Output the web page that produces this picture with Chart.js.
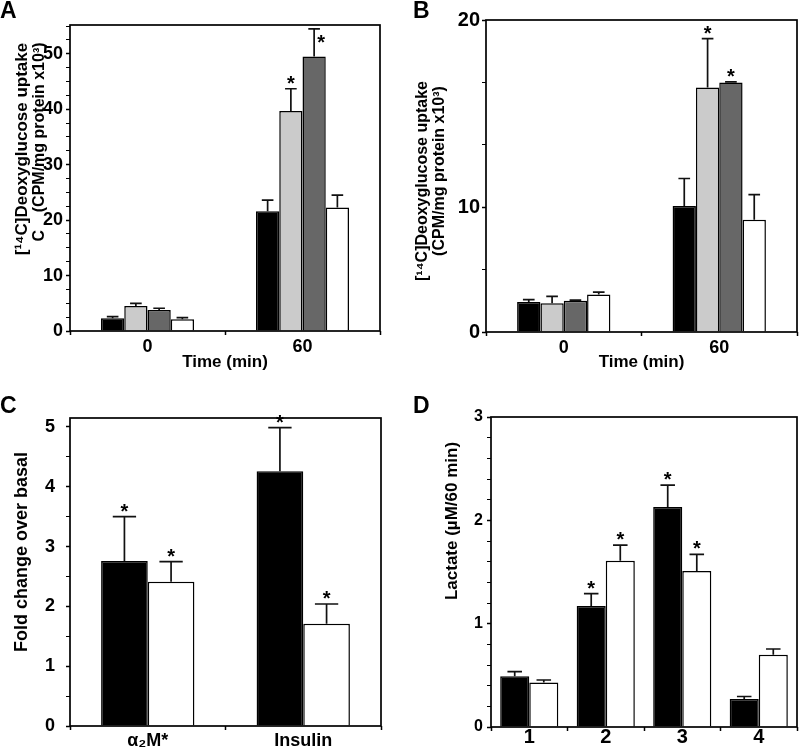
<!DOCTYPE html>
<html><head><meta charset="utf-8">
<script src="https://cdn.jsdelivr.net/npm/chart.js@4/dist/chart.umd.min.js"></script>
<style>
html,body{margin:0;padding:0;background:#fff;}
#wrap{position:relative;width:800px;height:753px;overflow:hidden;}
canvas{position:absolute;}
</style></head><body>
<div id="wrap">
<canvas id="cA" width="400" height="376" style="left:0;top:0"></canvas>
<canvas id="cB" width="400" height="376" style="left:400px;top:0"></canvas>
<canvas id="cC" width="400" height="377" style="left:0;top:376px"></canvas>
<canvas id="cD" width="400" height="377" style="left:400px;top:376px"></canvas>
</div>
<script>
// ---------- DATA ----------
// Panel A
const aCategories = ['0', '60'];
const aBlack = [2.3, 21.6];   const aBlackErr = [0.3, 2.0];
const aLight = [4.5, 39.7];   const aLightErr = [0.5, 4.0];
const aDark  = [3.8, 49.5];   const aDarkErr  = [0.3, 5.0];
const aWhite = [2.1, 22.3];   const aWhiteErr = [0.3, 2.2];
const aLightStar = [false, true];
const aDarkStar  = [false, true];
// Panel B
const bCategories = ['0', '60'];
const bBlack = [2.4, 10.1];   const bBlackErr = [0.2, 2.2];
const bLight = [2.3, 19.6];   const bLightErr = [0.55, 3.9];
const bDark  = [2.5, 20.0];   const bDarkErr  = [0.05, 0.05];
const bWhite = [3.0, 9.0];    const bWhiteErr = [0.2, 2.0];
const bLightStar = [false, true];
const bDarkStar  = [false, true];
const bTickValues = [0, 10, 25];
const bTickTexts  = ['0', '10', '20'];
// Panel C
const cCategories = ['α₂M*', 'Insulin'];
const cBlack = [2.76, 4.26];  const cBlackErr = [0.74, 0.73];
const cWhite = [2.41, 1.71];  const cWhiteErr = [0.34, 0.33];
const cBlackStar = [true, true];
const cWhiteStar = [true, true];
// Panel D
const dCategories = ['1', '2', '3', '4'];
const dBlack = [0.49, 1.17, 2.13, 0.27];  const dBlackErr = [0.045, 0.12, 0.21, 0.025];
const dWhite = [0.43, 1.61, 1.51, 0.70];  const dWhiteErr = [0.025, 0.15, 0.16, 0.055];
const dBlackStar = [false, true, true, false];
const dWhiteStar = [false, true, true, false];

// ---------- STYLE ----------
const FAM = "'Liberation Sans', Arial, Helvetica, sans-serif";
const BLACK = '#000000', LIGHT = '#cbcbcb', DARK = '#676767', WHITE = '#ffffff';

const decor = {
  id: 'decor',
  afterDatasetsDraw(chart, args, o) {
    const ctx = chart.ctx, ca = chart.chartArea, ys = chart.scales.y;
    ctx.save();
    // error bars + stars
    chart.data.datasets.forEach((ds, i) => {
      const meta = chart.getDatasetMeta(i);
      meta.data.forEach((el, j) => {
        const v = ds.data[j];
        const e = ds.err ? ds.err[j] : 0;
        const yTop = el.y;
        const yE = ys.getPixelForValue(v + e);
        const w = el.width * 0.5;
        ctx.strokeStyle = '#111';
        ctx.lineWidth = 1.7;
        ctx.beginPath();
        ctx.moveTo(el.x, yTop); ctx.lineTo(el.x, yE);
        ctx.moveTo(el.x - w / 2, yE); ctx.lineTo(el.x + w / 2, yE);
        ctx.stroke();
        if (ds.stars && ds.stars[j]) {
          ctx.fillStyle = '#000';
          ctx.font = 'bold 20px ' + FAM;
          ctx.textAlign = 'center';
          ctx.textBaseline = 'alphabetic';
          if (yE - 8 < ca.top) ctx.fillText('*', el.x + 7, yE + 20);
          else ctx.fillText('*', el.x, yE + 1);
        }
      });
    });
    // frame
    ctx.strokeStyle = '#000';
    ctx.lineWidth = 1.7;
    ctx.strokeRect(ca.left, ca.top, ca.right - ca.left, ca.bottom - ca.top);
    // panel letter
    ctx.fillStyle = '#000';
    ctx.font = 'bold 23px ' + FAM;
    ctx.textAlign = 'left';
    ctx.textBaseline = 'alphabetic';
    ctx.fillText(o.letter, o.letterX, o.letterY);
    // y title
    o.yTitle.forEach(t => {
      ctx.save();
      ctx.translate(t.x, t.y);
      ctx.rotate(-Math.PI / 2);
      ctx.font = 'bold ' + t.size + 'px ' + FAM;
      ctx.textAlign = 'center';
      ctx.textBaseline = 'middle';
      ctx.fillText(t.text, 0, 0);
      ctx.restore();
    });
    ctx.restore();
  }
};

function makeChart(id, cfg) {
  const datasets = cfg.series.map(s => ({
    data: s.data, err: s.err, stars: s.stars,
    backgroundColor: s.color, borderColor: '#000', borderWidth: 1.5,
    borderSkipped: 'start',
    barPercentage: 1.0, categoryPercentage: cfg.catPct
  }));
  return new Chart(document.getElementById(id), {
    type: 'bar',
    data: { labels: cfg.labels, datasets },
    plugins: [decor],
    options: {
      responsive: false, animation: false, devicePixelRatio: 1,
      layout: { padding: { top: cfg.top, right: cfg.right, left: 0, bottom: 0 } },
      plugins: { legend: { display: false }, tooltip: { enabled: false }, decor: cfg.decor },
      scales: {
        x: {
          type: 'category', offset: true,
          grid: { display: true, offset: true, drawOnChartArea: false, drawTicks: true, tickLength: 4, tickColor: '#000', tickWidth: 1.5 },
          border: { display: false },
          ticks: { color: '#000', font: { family: FAM, size: cfg.xTickSize, weight: 'bold' }, padding: cfg.xTickPad, maxRotation: 0, autoSkip: false },
          title: cfg.xTitle ? { display: true, text: cfg.xTitle, color: '#000', font: { family: FAM, size: 17, weight: 'bold', lineHeight: 1.2 }, padding: { top: 0, bottom: cfg.xTitlePad } } : { display: false },
          afterFit(s) { s.height = cfg.xHeight; }
        },
        y: {
          min: 0, max: cfg.yMax,
          grid: { display: true, drawOnChartArea: false, drawTicks: true, tickLength: 4, tickColor: '#000',
                  tickWidth: c => (cfg.isMajor(c.tick.value) ? 1.5 : 1) },
          border: { display: false },
          ticks: { stepSize: cfg.yStep, autoSkip: false, includeBounds: false, color: '#000',
                   font: { family: FAM, size: cfg.yTickSize, weight: 'bold' }, padding: cfg.yTickPad,
                   callback: v => cfg.yLabel(v) },
          afterFit(s) { s.width = cfg.yWidth; }
        }
      }
    }
  });
}

const near = (v, t) => Math.abs(v - t) < 1e-6;

// Panel A
makeChart('cA', {
  labels: aCategories, catPct: 0.6,
  series: [
    { data: aBlack, err: aBlackErr, color: BLACK },
    { data: aLight, err: aLightErr, color: LIGHT, stars: aLightStar },
    { data: aDark,  err: aDarkErr,  color: DARK,  stars: aDarkStar },
    { data: aWhite, err: aWhiteErr, color: WHITE }
  ],
  top: 25, right: 20, yWidth: 70, xHeight: 45,
  yMax: 55.2, yStep: 2.5, yTickSize: 18, yTickPad: 3,
  isMajor: v => near(v % 10, 0),
  yLabel: v => (near(v % 10, 0) ? String(v) : ''),
  xTickSize: 18, xTickPad: 1, xTitle: 'Time (min)', xTitlePad: 3,
  decor: { letter: 'A', letterX: 0, letterY: 18,
    yTitle: [ { text: '[¹⁴C]Deoxyglucose uptake', x: 22, y: 149, size: 17 },
              { text: 'C    (CPM/mg protein x10³)', x: 40, y: 142, size: 16 } ] }
});

// Panel B
makeChart('cB', {
  labels: bCategories, catPct: 0.6,
  series: [
    { data: bBlack, err: bBlackErr, color: BLACK },
    { data: bLight, err: bLightErr, color: LIGHT, stars: bLightStar },
    { data: bDark,  err: bDarkErr,  color: DARK,  stars: bDarkStar },
    { data: bWhite, err: bWhiteErr, color: WHITE }
  ],
  top: 20, right: 3, yWidth: 86, xHeight: 44,
  yMax: 25, yStep: 5, yTickSize: 20, yTickPad: 2,
  isMajor: v => bTickValues.some(t => near(t, v)),
  yLabel: v => { const k = bTickValues.findIndex(t => near(t, v)); return k >= 0 ? bTickTexts[k] : ''; },
  xTickSize: 18, xTickPad: 1, xTitle: 'Time (min)', xTitlePad: 3,
  decor: { letter: 'B', letterX: 13, letterY: 18,
    yTitle: [ { text: '[¹⁴C]Deoxyglucose uptake', x: 23, y: 181, size: 16 },
              { text: '(CPM/mg protein x10³)', x: 40, y: 171, size: 16 } ] }
});

// Panel C
makeChart('cC', {
  labels: cCategories, catPct: 0.6,
  series: [
    { data: cBlack, err: cBlackErr, color: BLACK, stars: cBlackStar },
    { data: cWhite, err: cWhiteErr, color: WHITE, stars: cWhiteStar }
  ],
  top: 42, right: 19, yWidth: 70, xHeight: 27,
  yMax: 5.15, yStep: 0.5, yTickSize: 18, yTickPad: 11,
  isMajor: v => near(v, Math.round(v)),
  yLabel: v => (near(v, Math.round(v)) ? String(Math.round(v)) : ''),
  xTickSize: 18, xTickPad: 0, xTitle: null, xTitlePad: 0,
  decor: { letter: 'C', letterX: 0, letterY: 37,
    yTitle: [ { text: 'Fold change over basal', x: 22, y: 176, size: 18 } ] }
});

// Panel D
makeChart('cD', {
  labels: dCategories, catPct: 0.76,
  series: [
    { data: dBlack, err: dBlackErr, color: BLACK, stars: dBlackStar },
    { data: dWhite, err: dWhiteErr, color: WHITE, stars: dWhiteStar }
  ],
  top: 41, right: 3, yWidth: 91, xHeight: 26,
  yMax: 3, yStep: 0.2, yTickSize: 16, yTickPad: 4,
  isMajor: v => near(v, Math.round(v)),
  yLabel: v => (near(v, Math.round(v)) ? String(Math.round(v)) : ''),
  xTickSize: 20, xTickPad: -6, xTitle: null, xTitlePad: 0,
  decor: { letter: 'D', letterX: 13, letterY: 37,
    yTitle: [ { text: 'Lactate (µM/60 min)', x: 52, y: 145, size: 17 } ] }
});
</script>
</body></html>
